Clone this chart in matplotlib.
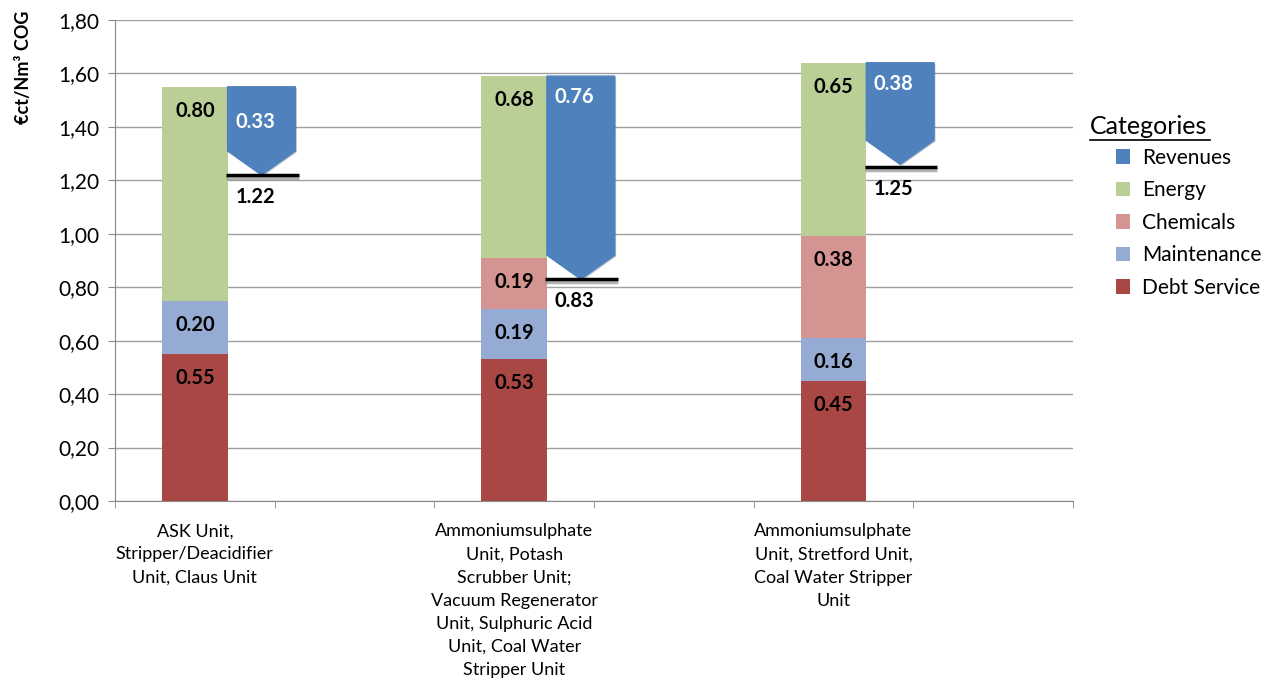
import numpy as np
import matplotlib
matplotlib.use("Agg")
import matplotlib.pyplot as plt
import matplotlib.patheffects as pe
from matplotlib.lines import Line2D
from matplotlib.patches import Patch
from matplotlib.ticker import FuncFormatter, FixedLocator

plt.rcParams['font.family'] = ['Lato', 'DejaVu Sans']

# datos
units = ["ASK Unit,\nStripper/Deacidifier\nUnit, Claus Unit",
         "Ammoniumsulphate\nUnit, Potash\nScrubber Unit;\nVacuum Regenerator\nUnit, Sulphuric Acid\nUnit, Coal Water\nStripper Unit",
         "Ammoniumsulphate\nUnit, Stretford Unit,\nCoal Water Stripper\nUnit"]
debt = [0.55, 0.53, 0.45]
maintenance = [0.20, 0.19, 0.16]
chemicals = [0.00, 0.19, 0.38]
energy = [0.80, 0.68, 0.65]
revenues = [0.33, 0.76, 0.38]
net = [1.22, 0.83, 1.25]

categories = ["Revenues", "Energy", "Chemicals", "Maintenance", "Debt Service"]
colors = {"Revenues": "#4F81BD", "Energy": "#B9CF96", "Chemicals": "#D49492",
          "Maintenance": "#95ABD3", "Debt Service": "#A94744"}

fig = plt.figure(figsize=(12.72, 6.80), dpi=100)
ax = fig.add_axes([115/1272, 1-501/680, (1073-115)/1272, (501-20)/680])

xpos = np.array([0, 2, 4])
w = 0.41
aw = 0.425
head = 0.09

stack = [("Debt Service", debt), ("Maintenance", maintenance),
         ("Chemicals", chemicals), ("Energy", energy)]
bottom = np.zeros(3)
for name, vals in stack:
    vals = np.array(vals)
    ax.bar(xpos, vals, w, bottom=bottom, color=colors[name], zorder=2)
    for i in range(3):
        if vals[i] > 0:
            ax.text(xpos[i], bottom[i] + vals[i] - 0.09, "%.2f" % vals[i],
                    ha='center', va='center', fontsize=14.5, fontweight='bold', zorder=5)
    bottom = bottom + vals

rev_drop = [0.13, 0.08, 0.08]
for i in range(3):
    top = bottom[i]
    low = top - revenues[i]
    x0 = xpos[i] + w/2
    x1 = x0 + aw
    xs = [x0, x1, x1, (x0 + x1)/2, x0]
    ys = [top, top, low + head, low, low + head]
    ax.fill(xs, ys, color=colors["Revenues"], zorder=3,
            path_effects=[pe.SimplePatchShadow(offset=(1, -1), alpha=0.25), pe.Normal()])
    ax.text((x0 + x1)/2 - 0.04, top - rev_drop[i], "%.2f" % revenues[i], color='white',
            ha='center', va='center', fontsize=14.5, fontweight='bold', zorder=5)
    ax.plot([x0 - 0.01, x1 + 0.02], [net[i], net[i]], color='black', lw=2.5, zorder=4,
            solid_capstyle='butt',
            path_effects=[pe.SimpleLineShadow(offset=(0, -2), shadow_color='gray', alpha=0.6), pe.Normal()])
    ax.text((x0 + x1)/2 - 0.04, net[i] - 0.083, "%.2f" % net[i],
            ha='center', va='center', fontsize=14.5, fontweight='bold', zorder=5)

ax.set_xlim(-0.5, 5.5)
ax.set_ylim(0, 1.8)
ax.set_yticks(np.arange(0, 1.81, 0.2))
ax.yaxis.set_major_formatter(FuncFormatter(lambda v, p: ("%.2f" % v).replace('.', ',')))
ax.grid(axis='y', color='#A0A0A0', lw=1, zorder=0)
ax.set_axisbelow(True)

ax.set_xticks(xpos)
ax.set_xticklabels(units, fontsize=13, linespacing=1.55, va='top')
ax.xaxis.set_minor_locator(FixedLocator(np.arange(-0.5, 5.6, 1)))
ax.tick_params(axis='x', which='major', length=0, pad=16)
ax.tick_params(axis='x', which='minor', length=5, color='#888888')
ax.tick_params(axis='y', length=5, color='#888888', labelsize=15, pad=6)

for s in ['top', 'right']:
    ax.spines[s].set_visible(False)
for s in ['left', 'bottom']:
    ax.spines[s].set_color('#888888')

fig.text(24/1272, 1 - 67/680, "€ct/Nm³ COG", rotation=90, fontsize=13,
         fontweight='bold', ha='center', va='center')

# leyenda
fig.text(1090/1272, 1 - 127/680, "Categories", fontsize=18, ha='left', va='center')
fig.add_artist(Line2D([1090/1272, 1210/1272], [1 - 140/680, 1 - 140/680],
                      color='black', lw=1.2, transform=fig.transFigure))
handles = [Patch(facecolor=colors[c]) for c in categories]
fig.legend(handles, categories, loc='upper left', bbox_to_anchor=(1097/1272, 1 - 129/680),
           frameon=False, fontsize=15, handlelength=0.7, handleheight=0.7,
           labelspacing=0.6, handletextpad=0.55)

fig.savefig("out.png", dpi=100)
